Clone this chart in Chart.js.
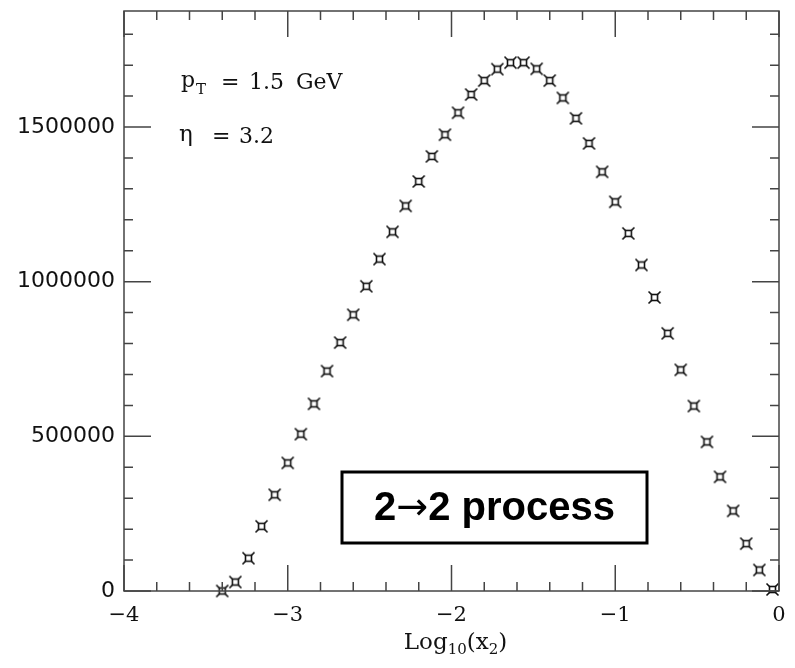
<!DOCTYPE html>
<html>
<head>
<meta charset="utf-8">
<script src="https://cdn.jsdelivr.net/npm/chart.js@4.4.1/dist/chart.umd.min.js"></script>
<style>
  html, body { margin: 0; padding: 0; background: #fff; }
  #wrap { width: 795px; height: 668px; }
</style>
</head>
<body>
<div id="wrap"><canvas id="myChart" width="795" height="668"></canvas></div>
<script>
// log10(x2) bin centres
const logX2 = [
    -3.40, -3.32, -3.24, -3.16, -3.08, -3.00, -2.92, -2.84, -2.76, -2.68,
    -2.60, -2.52, -2.44, -2.36, -2.28, -2.20, -2.12, -2.04, -1.96, -1.88,
    -1.80, -1.72, -1.64, -1.56, -1.48, -1.40, -1.32, -1.24, -1.16, -1.08,
    -1.00, -0.92, -0.84, -0.76, -0.68, -0.60, -0.52, -0.44, -0.36, -0.28,
    -0.20, -0.12, -0.04
];
// event counts per bin
const counts = [
    0, 29000, 106000, 209000, 311000, 414000, 507000, 605000, 711000, 803000,
    893000, 985000, 1073000, 1161000, 1245000, 1324000, 1405000, 1475000, 1546000, 1605000,
    1650000, 1687000, 1708000, 1708000, 1688000, 1650000, 1594000, 1528000, 1447000, 1355000,
    1258000, 1156000, 1054000, 949000, 833000, 715000, 598000, 482000, 369000, 259000,
    153000, 68000, 5000
];
// axis labels
const xTicks = [-4, -3, -2, -1, 0];
const yTicks = [0, 500000, 1000000, 1500000];

const ink = '#111';
const frame = '#444';

// marker: open square with a spike out of each corner
function makeMarker() {
    const c = document.createElement('canvas');
    c.width = 15; c.height = 15;
    const g = c.getContext('2d');
    g.strokeStyle = ink;
    g.lineWidth = 1.6;
    g.translate(7.5, 7.5);
    g.strokeRect(-3, -3, 6, 6);
    g.beginPath();
    [[-1, -1], [1, -1], [1, 1], [-1, 1]].forEach(([sx, sy]) => {
        g.moveTo(sx * 3, sy * 3);
        g.lineTo(sx * 6, sy * 6);
    });
    g.stroke();
    return c;
}

// inward ticks on all four sides, plus the frame
const framePlugin = {
    id: 'framePlugin',
    afterDraw(chart) {
        const { ctx, chartArea: a, scales } = chart;
        const xs = scales.x, ys = scales.y;
        ctx.save();
        ctx.strokeStyle = frame;
        ctx.lineWidth = 1.5;
        ctx.strokeRect(a.left, a.top, a.right - a.left, a.bottom - a.top);
        ctx.beginPath();
        for (let i = 0; i <= 20; i++) {
            const v = -4 + i * 0.2;
            const px = xs.getPixelForValue(v);
            const len = (i % 5 === 0) ? 26 : 9;
            ctx.moveTo(px, a.bottom); ctx.lineTo(px, a.bottom - len);
            ctx.moveTo(px, a.top); ctx.lineTo(px, a.top + len);
        }
        for (let i = 0; i <= 18; i++) {
            const v = i * 100000;
            const py = ys.getPixelForValue(v);
            const len = (i % 5 === 0) ? 27 : 9;
            ctx.moveTo(a.left, py); ctx.lineTo(a.left + len, py);
            ctx.moveTo(a.right, py); ctx.lineTo(a.right - len, py);
        }
        ctx.stroke();
        ctx.restore();
    }
};

// text with subscripts: pieces of [text, x, baseline, size]
function drawPieces(ctx, pieces, family) {
    pieces.forEach(p => {
        ctx.font = p[3] + 'px ' + family;
        ctx.fillText(p[0], p[1], p[2]);
    });
}

const notesPlugin = {
    id: 'notesPlugin',
    afterDraw(chart) {
        const { ctx, chartArea: a } = chart;
        const serif = '"DejaVu Serif", serif';
        ctx.save();
        ctx.fillStyle = '#111';
        ctx.textAlign = 'left';
        ctx.textBaseline = 'alphabetic';

        // kinematics
        drawPieces(ctx, [
            ['p', 181, 87, 22], ['T', 196, 94, 15], ['=', 221, 89, 22],
            ['1.5', 249, 89, 22], ['GeV', 296, 89, 22]
        ], serif);
        drawPieces(ctx, [
            ['\u03B7', 179, 141, 23], ['=', 212, 143, 22], ['3.2', 239, 143, 22]
        ], serif);

        // x axis title, centred under the plot
        const parts = [['Log', 23, 0], ['10', 15, 5], ['(x', 23, 0], ['2', 15, 5], [')', 23, 0]];
        let w = 0;
        parts.forEach(p => { ctx.font = p[1] + 'px ' + serif; w += ctx.measureText(p[0]).width; });
        let x = (a.left + a.right) / 2 + 4 - w / 2;
        parts.forEach(p => {
            ctx.font = p[1] + 'px ' + serif;
            ctx.fillText(p[0], x, 649 + p[2]);
            x += ctx.measureText(p[0]).width;
        });

        // process label box
        ctx.lineWidth = 3;
        ctx.strokeStyle = '#000';
        ctx.fillStyle = '#fff';
        ctx.fillRect(342, 472, 305, 71);
        ctx.strokeRect(342, 472, 305, 71);
        ctx.fillStyle = '#000';
        ctx.textBaseline = 'middle';
        const bold = 'bold 40px "Liberation Sans", Arial, sans-serif';
        const arrowFont = '38px "DejaVu Sans", sans-serif';
        const label = [['2', bold], ['\u2192', arrowFont], ['2 process', bold]];
        let lw = 0;
        label.forEach(p => { ctx.font = p[1]; lw += ctx.measureText(p[0]).width; });
        let lx = 494.5 - lw / 2;
        label.forEach(p => {
            ctx.font = p[1];
            ctx.fillText(p[0], lx, 509);
            lx += ctx.measureText(p[0]).width;
        });
        ctx.restore();
    }
};

// keep the plot area fixed: no extra room for end labels
function noPad(s) {
    s.paddingTop = 0; s.paddingBottom = 0;
    s.paddingLeft = 0; s.paddingRight = 0;
}

const ctx = document.getElementById('myChart').getContext('2d');
const myChart = new Chart(ctx, {
    type: 'scatter',
    data: {
        datasets: [{
            data: logX2.map((v, i) => ({ x: v, y: counts[i] })),
            pointStyle: makeMarker(),
            pointRadius: 7,
            clip: false
        }]
    },
    options: {
        responsive: false,
        animation: false,
        layout: { padding: { top: 11, right: 16, left: 0, bottom: 0 } },
        plugins: {
            legend: { display: false },
            tooltip: { enabled: false }
        },
        scales: {
            x: {
                type: 'linear',
                min: -4,
                max: 0,
                grid: { display: false, drawTicks: false },
                border: { display: false },
                afterBuildTicks: s => { s.ticks = xTicks.map(v => ({ value: v })); },
                afterFit: s => { s.height = 77; noPad(s); },
                ticks: {
                    padding: 12,
                    maxRotation: 0,
                    color: '#111',
                    font: { family: '"DejaVu Serif", serif', size: 21 },
                    callback: v => v < 0 ? '\u2212' + Math.abs(v) : String(v)
                }
            },
            y: {
                min: 0,
                max: 1875000,
                grid: { display: false, drawTicks: false },
                border: { display: false },
                afterBuildTicks: s => { s.ticks = yTicks.map(v => ({ value: v })); },
                afterFit: s => { s.width = 124; noPad(s); },
                ticks: {
                    padding: 9,
                    color: '#111',
                    font: { family: '"DejaVu Sans", sans-serif', size: 22 },
                    callback: v => String(v)
                }
            }
        }
    },
    plugins: [framePlugin, notesPlugin]
});
</script>
</body>
</html>
